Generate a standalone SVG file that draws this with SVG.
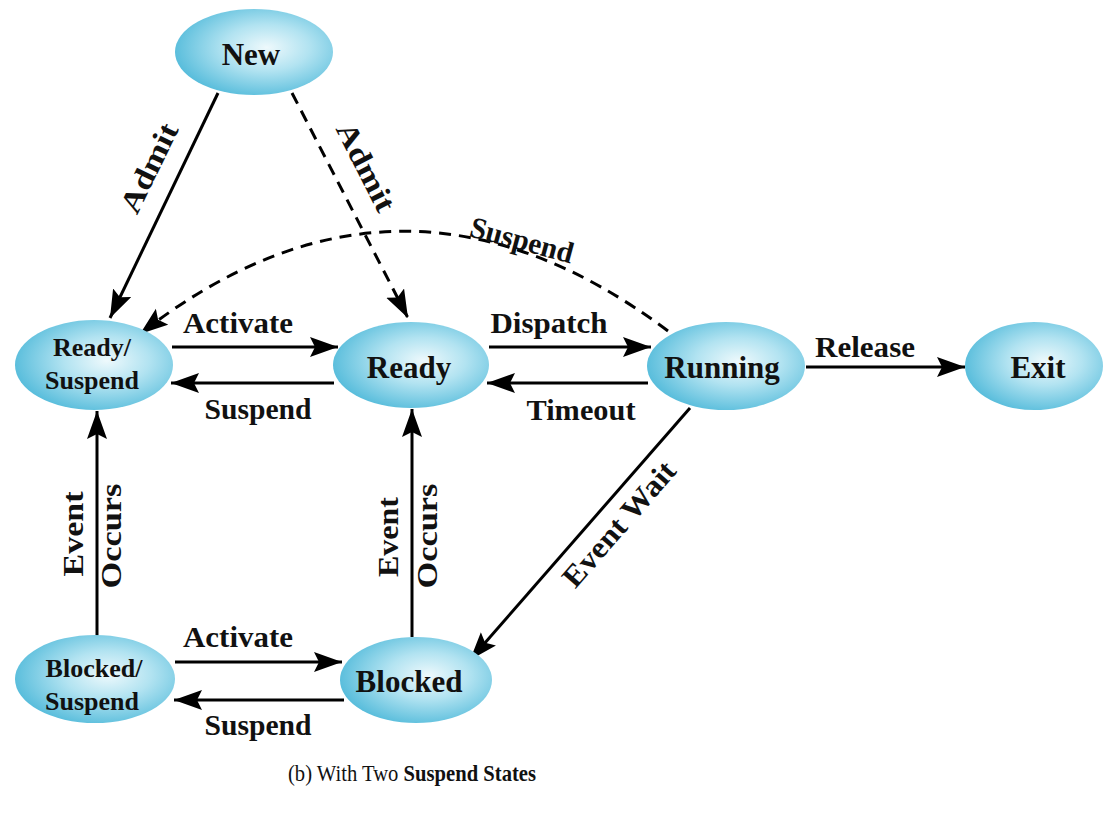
<svg xmlns="http://www.w3.org/2000/svg" width="1106" height="819" viewBox="0 0 1106 819">
<defs>
<radialGradient id="g" cx="58%" cy="45%" r="60%">
<stop offset="0%" stop-color="#eef9fc"/>
<stop offset="45%" stop-color="#b2e3f1"/>
<stop offset="100%" stop-color="#56bcdb"/>
</radialGradient>
<marker id="ah" markerUnits="userSpaceOnUse" markerWidth="30" markerHeight="22" refX="28" refY="10" orient="auto">
<path d="M0,0 L28,10 L0,20 L5,10 Z" fill="#000"/>
</marker>
<style>
.n{fill:url(#g);stroke:none}
.nl{font-family:"Liberation Serif","Times New Roman",serif;font-weight:bold;font-size:31px;fill:#111;text-anchor:middle}
.ns{font-family:"Liberation Serif","Times New Roman",serif;font-weight:bold;font-size:26px;fill:#111;text-anchor:middle}
.el{font-family:"Liberation Serif","Times New Roman",serif;font-weight:bold;font-size:30px;fill:#111;text-anchor:middle}
.c{stroke:#000;stroke-width:3;fill:none;marker-end:url(#ah)}
.d{stroke-dasharray:12 8}
.cap{font-family:"Liberation Serif","Times New Roman",serif;font-size:24px;fill:#111;text-anchor:middle}
</style>
</defs>
<rect width="1106" height="819" fill="#fff"/>
<g id="connectors">
<line class="c" x1="218" y1="93" x2="110" y2="318"/>
<line class="c d" x1="292" y1="93" x2="408" y2="318"/>
<path class="c d" d="M668,331 Q400,130 140,334"/>
<line class="c" x1="172" y1="347" x2="338" y2="347"/>
<line class="c" x1="334" y1="383" x2="171" y2="383"/>
<line class="c" x1="489" y1="347" x2="651" y2="347"/>
<line class="c" x1="648" y1="383" x2="487" y2="383"/>
<line class="c" x1="806" y1="367" x2="965" y2="367"/>
<line class="c" x1="690" y1="408" x2="470" y2="660"/>
<line class="c" x1="97" y1="636" x2="97" y2="411"/>
<line class="c" x1="412" y1="637" x2="412" y2="409"/>
<line class="c" x1="175" y1="662" x2="342" y2="662"/>
<line class="c" x1="344" y1="700" x2="174" y2="700"/>
<text class="el" transform="translate(149,168) rotate(-64)" y="10" textLength="96" lengthAdjust="spacingAndGlyphs">Admit</text>
<text class="el" transform="translate(366,167) rotate(63)" y="10" textLength="96" lengthAdjust="spacingAndGlyphs">Admit</text>
<text class="el" transform="translate(522,240) rotate(15)" y="10" textLength="106" lengthAdjust="spacingAndGlyphs">Suspend</text>
<text class="el" x="238" y="333" textLength="110" lengthAdjust="spacingAndGlyphs">Activate</text>
<text class="el" x="258" y="419" textLength="107" lengthAdjust="spacingAndGlyphs">Suspend</text>
<text class="el" x="549" y="333" textLength="117" lengthAdjust="spacingAndGlyphs">Dispatch</text>
<text class="el" x="581" y="420" textLength="109" lengthAdjust="spacingAndGlyphs">Timeout</text>
<text class="el" x="865" y="357" textLength="100" lengthAdjust="spacingAndGlyphs">Release</text>
<text class="el" transform="translate(619,524) rotate(-49)" y="10" textLength="156" lengthAdjust="spacingAndGlyphs">Event Wait</text>
<text class="el" transform="translate(83,534) rotate(-90)" textLength="85" lengthAdjust="spacingAndGlyphs">Event</text>
<text class="el" transform="translate(121,536) rotate(-90)" textLength="105" lengthAdjust="spacingAndGlyphs">Occurs</text>
<text class="el" transform="translate(398,537) rotate(-90)" textLength="80" lengthAdjust="spacingAndGlyphs">Event</text>
<text class="el" transform="translate(437,536) rotate(-90)" textLength="105" lengthAdjust="spacingAndGlyphs">Occurs</text>
<text class="el" x="238" y="647" textLength="110" lengthAdjust="spacingAndGlyphs">Activate</text>
<text class="el" x="258" y="735" textLength="107" lengthAdjust="spacingAndGlyphs">Suspend</text>
</g>
<g id="new"><ellipse class="n" cx="254" cy="52" rx="79" ry="43"/><text class="nl" x="251" y="65">New</text></g>
<g id="ready-suspend"><ellipse class="n" cx="94" cy="365" rx="79" ry="45"/><text class="ns" x="92" y="356">Ready/</text><text class="ns" x="92" y="389">Suspend</text></g>
<g id="ready"><ellipse class="n" cx="411" cy="365" rx="78" ry="43"/><text class="nl" x="409" y="378">Ready</text></g>
<g id="running"><ellipse class="n" cx="726" cy="366" rx="79" ry="44"/><text class="nl" x="722" y="378">Running</text></g>
<g id="exit"><ellipse class="n" cx="1034" cy="366" rx="69" ry="44"/><text class="nl" x="1038" y="378">Exit</text></g>
<g id="blocked-suspend"><ellipse class="n" cx="95" cy="679" rx="80" ry="44"/><text class="ns" x="94" y="677">Blocked/</text><text class="ns" x="92" y="710">Suspend</text></g>
<g id="blocked"><ellipse class="n" cx="416" cy="680" rx="76" ry="43"/><text class="nl" x="409" y="692">Blocked</text></g>
<text class="cap" transform="translate(412,781) scale(0.86,1)">(b) With Two <tspan font-weight="bold">Suspend States</tspan></text>
</svg>
